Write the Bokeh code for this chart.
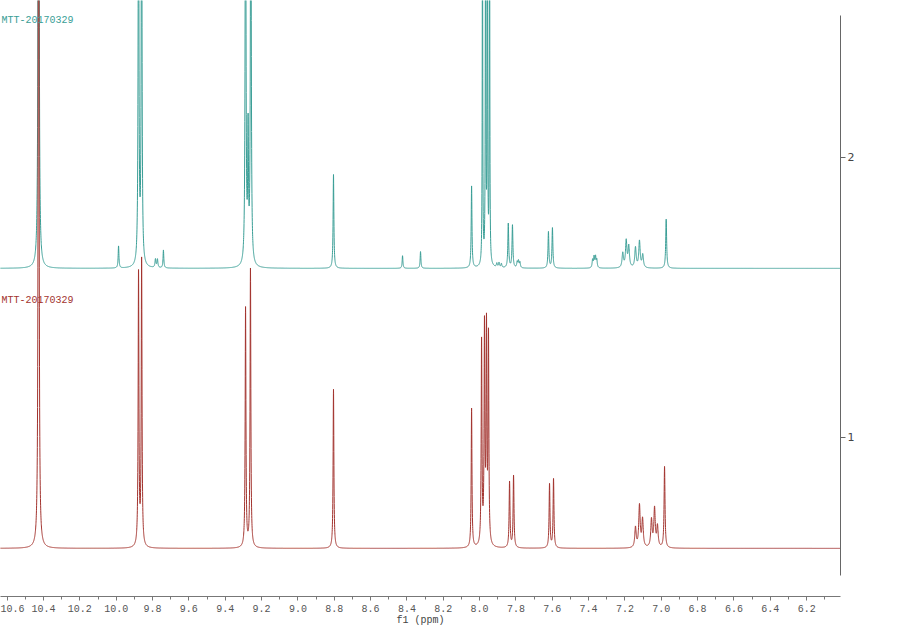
import numpy as np
from bokeh.plotting import figure
from bokeh.models import Range1d, FixedTicker, ColumnDataSource, Label, PrintfTickFormatter
from bokeh.embed import file_html
from bokeh.resources import INLINE

# ---------------- data ----------------
trace_labels = ["MTT-20170329", "MTT-20170329"]
trace_offsets = [1.604, 0.604]          # stacking offset of each spectrum

x_ticks = [10.6, 10.4, 10.2, 10.0, 9.8, 9.6, 9.4, 9.2, 9.0, 8.8, 8.6, 8.4,
           8.2, 8.0, 7.8, 7.6, 7.4, 7.2, 7.0, 6.8, 6.6, 6.4, 6.2]
x_minor_ticks = [10.5, 10.3, 10.1, 9.9, 9.7, 9.5, 9.3, 9.1, 8.9, 8.7, 8.5,
                 8.3, 8.1, 7.9, 7.7, 7.5, 7.3, 7.1, 6.9, 6.7, 6.5, 6.3, 6.1]
y_ticks = [1, 2]

# upper (teal) spectrum: peak positions (ppm), heights, half widths
teal_ppm = [10.427, 9.987, 9.877, 9.860, 9.784, 9.773, 9.740, 9.288, 9.274,
            9.259, 8.804, 8.424, 8.325, 8.044, 7.984, 7.967, 7.957, 7.945,
            7.905, 7.893, 7.880, 7.842, 7.819, 7.793, 7.786, 7.778, 7.621,
            7.599, 7.378, 7.370, 7.362, 7.355, 7.212, 7.193, 7.179, 7.142,
            7.120, 7.102, 6.973]
teal_height = [4.0, 0.079, 1.6, 1.6, 0.030, 0.030, 0.064, 1.8, 0.45,
               1.8, 0.335, 0.045, 0.060, 0.292, 1.4, 1.6, 1.6, 1.4,
               0.014, 0.017, 0.014, 0.158, 0.153, 0.020, 0.024, 0.020, 0.130,
               0.144, 0.028, 0.038, 0.038, 0.028, 0.052, 0.095, 0.075, 0.072,
               0.095, 0.046, 0.176]
teal_hw = [0.0022, 0.0025, 0.0025, 0.0025, 0.003, 0.003, 0.0025, 0.0025, 0.0025,
           0.0025, 0.0025, 0.0025, 0.0025, 0.0025, 0.0015, 0.0015, 0.0015, 0.0015,
           0.003, 0.003, 0.003, 0.0028, 0.0028, 0.003, 0.003, 0.003, 0.0028,
           0.0028, 0.003, 0.003, 0.003, 0.003, 0.0045, 0.0045, 0.0045, 0.0045,
           0.0045, 0.0045, 0.003]

# lower (red) spectrum
red_ppm = [10.427, 9.877, 9.860, 9.288, 9.261, 8.804, 8.044, 7.989, 7.973,
           7.962, 7.951, 7.835, 7.813, 7.615, 7.593, 7.142, 7.120, 7.103,
           7.054, 7.037, 7.021, 6.982]
red_height = [4.0, 0.98, 1.02, 0.855, 1.0, 0.568, 0.497, 0.73, 0.77,
              0.76, 0.74, 0.236, 0.258, 0.229, 0.247, 0.072, 0.150, 0.100,
              0.098, 0.138, 0.074, 0.290]
red_hw = [0.0022, 0.0025, 0.0025, 0.0025, 0.0025, 0.0025, 0.0025, 0.0025, 0.0025,
          0.0025, 0.0025, 0.0028, 0.0028, 0.0028, 0.0028, 0.0045, 0.0045, 0.0045,
          0.0045, 0.0045, 0.0045, 0.003]

# ---------------- build line shapes from the peak lists ----------------
ppm_axis = np.arange(6.0, 10.66, 0.0004)


def spectrum(pos, hts, hws, offset):
    y = np.zeros_like(ppm_axis)
    for p, h, w in zip(pos, hts, hws):
        y += h * w * w / ((ppm_axis - p) ** 2 + w * w)
    return y + offset


teal_src = ColumnDataSource(dict(x=ppm_axis, y=spectrum(teal_ppm, teal_height, teal_hw, trace_offsets[0])))
red_src = ColumnDataSource(dict(x=ppm_axis, y=spectrum(red_ppm, red_height, red_hw, trace_offsets[1])))

TEAL = "#3a9e96"
RED = "#a3342f"
FONT = "Liberation Mono"

p = figure(frame_width=840, frame_height=596, output_backend="svg", toolbar_location=None,
           x_range=Range1d(10.6367, 6.0136), y_range=Range1d(0.4321, 2.5607),
           y_axis_location="right", min_border_left=0, min_border_top=0,
           min_border_right=30, min_border_bottom=0)
p.outline_line_color = None
p.xgrid.visible = False
p.ygrid.visible = False
p.background_fill_color = "white"
p.border_fill_color = "white"

p.line("x", "y", source=teal_src, line_color=TEAL, line_width=1)
p.line("x", "y", source=red_src, line_color=RED, line_width=1)

for lab, off, col in zip(trace_labels, trace_offsets, [TEAL, RED]):
    p.add_layout(Label(x=1, x_units="screen", y=off + 0.885, text=lab, text_font=FONT,
                       text_font_size="10px", text_color=col,
                       text_align="left", text_baseline="middle"))

# bottom axis
xa = p.xaxis[0]
xa.ticker = FixedTicker(ticks=x_ticks, minor_ticks=x_minor_ticks)
xa.formatter = PrintfTickFormatter(format="%.1f")
xa.axis_label = "f1 (ppm)"
xa.axis_label_text_font = FONT
xa.axis_label_text_font_size = "10px"
xa.axis_label_text_font_style = "normal"
xa.axis_label_text_color = "#444444"
xa.axis_label_standoff = 0
xa.major_label_text_font = FONT
xa.major_label_text_font_size = "10px"
xa.major_label_text_color = "#555555"
xa.major_label_standoff = 4
xa.axis_line_color = "#777777"
xa.major_tick_line_color = "#777777"
xa.minor_tick_line_color = "#777777"
xa.major_tick_in = 0
xa.major_tick_out = 4
xa.minor_tick_in = 0
xa.minor_tick_out = 3

# right axis
ya = p.yaxis[0]
ya.ticker = FixedTicker(ticks=y_ticks, minor_ticks=[])
ya.bounds = (0.507, 2.507)
ya.major_label_text_font = "DejaVu Sans"
ya.major_label_text_font_size = "11px"
ya.major_label_text_color = "#444444"
ya.axis_line_color = "#666666"
ya.major_tick_line_color = "#666666"
ya.major_tick_in = 0
ya.major_tick_out = 5
ya.major_label_standoff = 2

open("out.html", "w").write(file_html(p, INLINE))
